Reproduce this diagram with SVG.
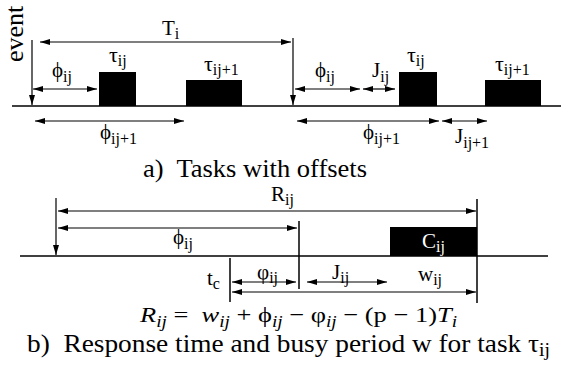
<svg xmlns="http://www.w3.org/2000/svg" width="562" height="374" viewBox="0 0 562 374">
<style>
text{font-family:"Liberation Serif","Times New Roman",serif;fill:#000}
.l{font-size:21px}
.t{font-size:22px}
.s{font-size:16px}
.cap{font-size:25px}
.f{font-size:22px}
.it{font-style:italic}
.w{fill:#fff}
.base{stroke:#000;stroke-width:1.5;fill:none}
.dbl{stroke:#000;stroke-width:1.2;fill:none;marker-start:url(#ah);marker-end:url(#ah)}
.one{stroke:#000;stroke-width:1.2;fill:none;marker-end:url(#ah)}
.box{fill:#000}
</style>
<defs>
<marker id="ah" viewBox="0 0 10 6" refX="10" refY="3" markerWidth="10" markerHeight="6" markerUnits="userSpaceOnUse" orient="auto-start-reverse">
<path d="M0,0 L10,3 L0,6 z" fill="#000"/>
</marker>
</defs>

<g id="connectors">
<path class="base" d="M12,106 H561"/>
<path class="one" d="M32,40 V105"/>
<path class="dbl" d="M40,42 H291"/>
<path class="one" d="M293,38 V105"/>
<path class="dbl" d="M33,89 H97"/>
<path class="dbl" d="M35,121 H184"/>
<path class="dbl" d="M295,89 H360"/>
<path class="dbl" d="M363,89 H395"/>
<path class="dbl" d="M297,121 H439"/>
<path class="dbl" d="M442,121 H487"/>
<path class="base" d="M20,256 H548"/>
<path class="one" d="M56,198 V255"/>
<path class="dbl" d="M58,211 H476"/>
<path class="dbl" d="M58,228 H297"/>
<path class="base" d="M299,221 V289"/>
<path class="base" d="M477,199 V303"/>
<path class="base" d="M230,258 V302"/>
<path class="dbl" d="M232,282 H296"/>
<path class="dbl" d="M307,282 H387"/>
<path class="dbl" d="M232,292 H476"/>
</g>

<g id="event"><text transform="translate(23,62) rotate(-90)" style="font-size:26px">event</text></g>
<g id="Ti"><text class="l" x="162" y="35">T<tspan class="s" dy="4">i</tspan></text></g>
<g id="phi1"><text class="l" x="52" y="77">ϕ<tspan class="s" dy="5">ij</tspan></text></g>
<g id="tau1">
<rect class="box" x="99" y="72" width="37" height="34"/>
<text class="t" x="109" y="62">τ<tspan class="s" dy="4">ij</tspan></text>
</g>
<g id="tau2">
<rect class="box" x="186" y="80" width="56" height="26"/>
<text class="t" x="204" y="71">τ<tspan class="s" dy="4">ij+1</tspan></text>
</g>
<g id="phi2"><text class="l" x="100" y="139">ϕ<tspan class="s" dy="5">ij+1</tspan></text></g>
<g id="phi3"><text class="l" x="315" y="77">ϕ<tspan class="s" dy="5">ij</tspan></text></g>
<g id="J1"><text class="l" x="372" y="77">J<tspan class="s" dy="5">ij</tspan></text></g>
<g id="tau3">
<rect class="box" x="399" y="72" width="38" height="34"/>
<text class="t" x="407" y="62">τ<tspan class="s" dy="4">ij</tspan></text>
</g>
<g id="tau4">
<rect class="box" x="485" y="80" width="56" height="26"/>
<text class="t" x="495" y="71">τ<tspan class="s" dy="4">ij+1</tspan></text>
</g>
<g id="phi4"><text class="l" x="363" y="139">ϕ<tspan class="s" dy="5">ij+1</tspan></text></g>
<g id="J2"><text class="l" x="455" y="143">J<tspan class="s" dy="5">ij+1</tspan></text></g>
<g id="capA"><text class="cap" x="143" y="177" textLength="224" lengthAdjust="spacingAndGlyphs">a)&#160; Tasks with offsets</text></g>

<g id="Rij"><text class="l" x="271" y="201">R<tspan class="s" dy="4">ij</tspan></text></g>
<g id="phi5"><text class="l" x="173" y="244">ϕ<tspan class="s" dy="5">ij</tspan></text></g>
<g id="Cij">
<rect class="box" x="390" y="227" width="87" height="29"/>
<text class="l w" x="422" y="248">C<tspan class="s w" dy="4">ij</tspan></text>
</g>
<g id="tc"><text class="l" x="207" y="285">t<tspan class="s" dy="4">c</tspan></text></g>
<g id="varphi"><text class="l" x="257" y="279">φ<tspan class="s" dy="4">ij</tspan></text></g>
<g id="J3"><text class="l" x="332" y="279">J<tspan class="s" dy="4">ij</tspan></text></g>
<g id="wij"><text class="l" x="418" y="281">w<tspan class="s" dy="4">ij</tspan></text></g>
<g id="formula"><text class="f" x="140" y="322" textLength="317" lengthAdjust="spacingAndGlyphs"><tspan class="it">R</tspan><tspan class="s it" dy="5">ij</tspan><tspan dy="-5">&#160;=&#160; </tspan><tspan class="it">w</tspan><tspan class="s it" dy="5">ij</tspan><tspan dy="-5"> + ϕ</tspan><tspan class="s it" dy="5">ij</tspan><tspan dy="-5"> − φ</tspan><tspan class="s it" dy="5">ij</tspan><tspan dy="-5"> − (p − 1)</tspan><tspan class="it">T</tspan><tspan class="s it" dy="5">i</tspan></text></g>
<g id="capB"><text class="cap" x="27" y="352" textLength="523" lengthAdjust="spacingAndGlyphs">b)&#160; Response time and busy period w for task τ<tspan class="s" dy="4" style="font-size:18px">ij</tspan></text></g>
</svg>
